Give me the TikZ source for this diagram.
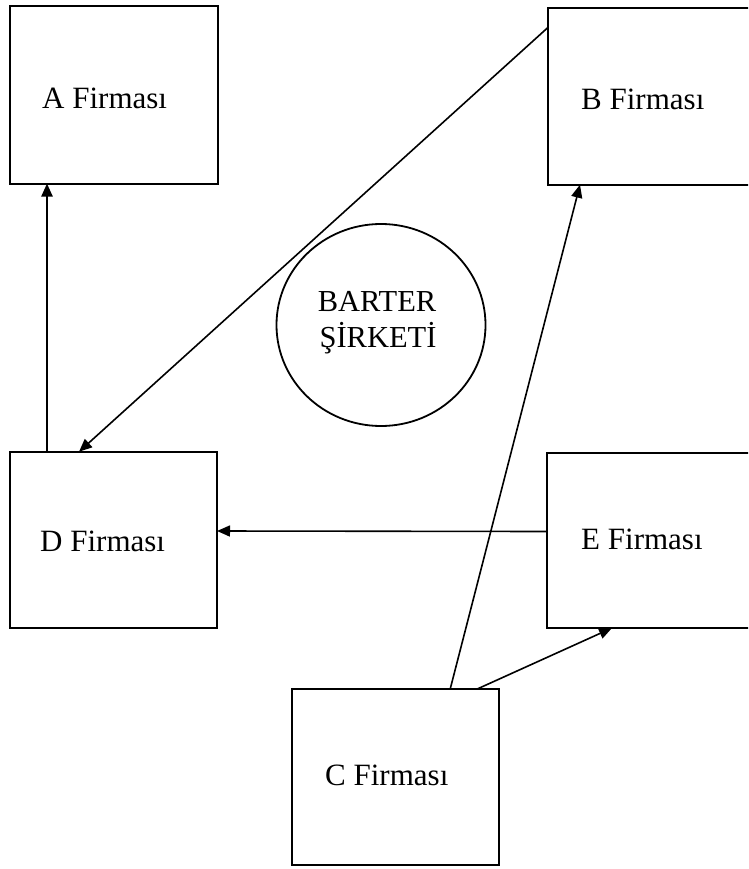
\documentclass[tikz,border=0pt]{standalone}
\usepackage{fontspec}
\setmainfont{Liberation Serif}
\usetikzlibrary{arrows.meta,shapes.geometric}
\begin{document}
\begin{tikzpicture}[x=1pt,y=-1pt,
  firm/.style={draw, line width=2pt, rectangle, inner sep=0pt, outer sep=0pt},
  lbl/.style={anchor=base west, inner sep=0pt, font=\fontsize{31}{36}\selectfont},
  clbl/.style={anchor=base, inner sep=0pt, font=\fontsize{30.5}{36}\selectfont},
  arr/.style={line width=1.6pt, -{Triangle[length=13pt,width=11pt]}},
]
\useasboundingbox (0,0) rectangle (748,869);
\clip (0,0) rectangle (748,869);

% firms
\node[firm, minimum width=208pt, minimum height=177pt] (A) at (113.5,95) {};
\node[firm, minimum width=212pt, minimum height=177pt] (B) at (653.7,96.2) {};
\node[firm, minimum width=207.5pt, minimum height=176.5pt] (D) at (113.25,540) {};
\node[firm, minimum width=213pt, minimum height=175pt] (E) at (653.5,540.5) {};
\node[firm, minimum width=207pt, minimum height=176pt] (C) at (395.7,777) {};

% firm names
\node[lbl] (tA) at (42,109) {A Firması};
\node[lbl] (tB) at (581,110) {B Firması};
\node[lbl] (tD) at (40,551.5) {D Firması};
\node[lbl] (tE) at (581,549) {E Firması};
\node[lbl] (tC) at (325,785) {C Firması};

% barter company
\node[draw, ellipse, line width=1.8pt, minimum width=209pt, minimum height=202pt,
      inner sep=0pt] (barter) at (381,325) {};
\node[clbl] (bt1) at (377,311.7) {BARTER};
\node[clbl] (bt2) at (378,347.7) {ŞİRKETİ};

% flows between firms
\draw[arr, line width=2.3pt] ([xshift=37.5pt]D.north west) -- ([xshift=37.5pt]A.south west);
\draw[arr] ([yshift=-20pt]B.north west) -- ([xshift=69.5pt]D.north west);
\draw[arr] ([yshift=9pt]E.west) -- ([yshift=9pt]D.east);
\draw[arr] ([xshift=158pt]C.north west) -- ([xshift=32.3pt]B.south west);
\draw[arr] ([xshift=185pt]C.north west) -- ([xshift=65pt]E.south west);
\end{tikzpicture}
\end{document}
